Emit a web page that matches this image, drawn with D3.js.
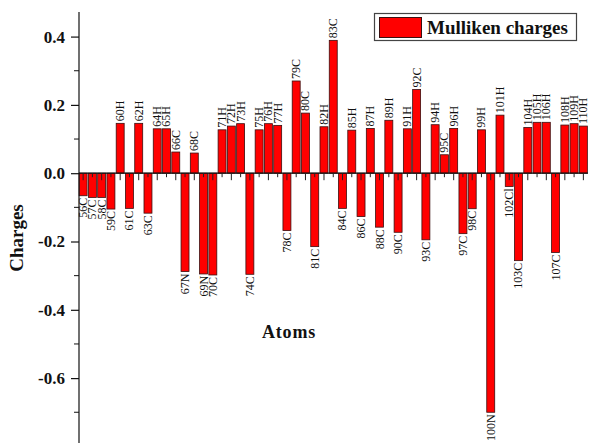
<!DOCTYPE html>
<html>
<head>
<meta charset="utf-8">
<script src="https://cdn.jsdelivr.net/npm/d3@7"></script>
<style>
  html, body { margin: 0; padding: 0; background: #fff; }
  svg { display: block; }
  text { font-family: "Liberation Serif", "Times New Roman", serif; fill: #111; }
</style>
</head>
<body>
<svg id="chart" width="589" height="444"></svg>
<script>
// Atom labels along the x axis
const atoms = [
  "56C","57C","58C","59C","60H","61C","62H","63C","64H","65H","66C","67N","68C","69N","70C",
  "71H","72H","73H","74C","75H","76H","77H","78C","79C","80C","81C","82H","83C","84C","85H",
  "86C","87H","88C","89H","90C","91H","92C","93C","94H","95C","96H","97C","98C","99H","100N",
  "101H","102Cl","103C","104H","105H","106H","107C","108H","109H","110H"
];

// Mulliken charge of each atom
const charges = [
  -0.066,-0.071,-0.071,-0.105, 0.146,-0.103, 0.146,-0.117, 0.130, 0.130, 0.062,-0.288, 0.059,-0.295,-0.298,
   0.127, 0.138, 0.145,-0.296, 0.127, 0.145, 0.140,-0.168, 0.270, 0.176,-0.215, 0.136, 0.389,-0.103, 0.126,
  -0.127, 0.131,-0.158, 0.155,-0.173, 0.130, 0.245,-0.195, 0.142, 0.054, 0.131,-0.177,-0.104, 0.127,-0.700,
   0.170,-0.039,-0.256, 0.134, 0.149, 0.149,-0.232, 0.141, 0.145, 0.138
];

const yMajorTicks = [-0.6, -0.4, -0.2, 0.0, 0.2, 0.4];
const yMinorTicks = [-0.7, -0.5, -0.3, -0.1, 0.1, 0.3];
const seriesName = "Mulliken charges";
const xTitle = "Atoms";
const yTitle = "Charges";

const svg = d3.select("#chart");

const x = d3.scaleBand()
  .domain(atoms)
  .range([78.5, 588])
  .paddingInner(0.14)
  .paddingOuter(0.07);

const y = d3.scaleLinear()
  .domain([-0.79, 0.472])
  .range([443, 12]);

const axisX = 79;
const zeroY = y(0);

// Bars
svg.append("g")
  .selectAll("rect")
  .data(atoms)
  .join("rect")
  .attr("x", d => x(d))
  .attr("width", x.bandwidth())
  .attr("y", (d, i) => Math.min(y(charges[i]), zeroY))
  .attr("height", (d, i) => Math.abs(y(charges[i]) - zeroY))
  .attr("fill", "#ff0000")
  .attr("stroke", "#3a1010")
  .attr("stroke-width", 0.8);

// Y axis: major ticks with labels, then minor ticks
const yAxis = svg.append("g")
  .attr("transform", `translate(${axisX},0)`)
  .call(d3.axisLeft(y)
    .tickValues(yMajorTicks)
    .tickSize(8)
    .tickPadding(6)
    .tickFormat(d3.format(".1f")));
yAxis.select(".domain").attr("stroke", "#111").attr("stroke-width", 1.2).attr("d", `M0,${y.range()[0]}V${y.range()[1]}`);
yAxis.selectAll(".tick line").attr("stroke", "#111").attr("stroke-width", 1.2);
yAxis.selectAll(".tick text")
  .style("font-family", '"Liberation Serif", serif')
  .style("font-weight", "bold")
  .style("font-size", "17px")
  .attr("fill", "#111")
  .text(d => d3.format(".1f")(d).replace("−", "-"));

svg.append("g")
  .selectAll("line")
  .data(yMinorTicks)
  .join("line")
  .attr("x1", axisX - 5)
  .attr("x2", axisX)
  .attr("y1", d => y(d))
  .attr("y2", d => y(d))
  .attr("stroke", "#111")
  .attr("stroke-width", 1);

// X axis along zero with ticks at each bar centre (alternating length)
svg.append("line")
  .attr("x1", axisX)
  .attr("x2", 588)
  .attr("y1", zeroY)
  .attr("y2", zeroY)
  .attr("stroke", "#111")
  .attr("stroke-width", 1.3);

svg.append("g")
  .selectAll("line")
  .data(atoms)
  .join("line")
  .attr("x1", d => x(d) + x.bandwidth() / 2)
  .attr("x2", d => x(d) + x.bandwidth() / 2)
  .attr("y1", zeroY)
  .attr("y2", (d, i) => zeroY + (i % 2 === 0 ? 7 : 4))
  .attr("stroke", "#222")
  .attr("stroke-width", 1);

// Atom labels at the end of each bar
svg.append("g")
  .selectAll("text")
  .data(atoms)
  .join("text")
  .attr("transform", (d, i) => {
    const cx = x(d) + x.bandwidth() / 2;
    const v = charges[i];
    const yy = v >= 0 ? y(v) - 2 : y(v) + 2;
    return `translate(${cx},${yy}) rotate(-90)`;
  })
  .attr("text-anchor", (d, i) => charges[i] >= 0 ? "start" : "end")
  .attr("dy", "0.33em")
  .style("font-size", "12px")
  .text(d => d);

// Axis titles
svg.append("text")
  .attr("transform", "translate(23,238) rotate(-90)")
  .attr("text-anchor", "middle")
  .style("font-size", "19px")
  .style("font-weight", "bold")
  .text(yTitle);

svg.append("text")
  .attr("x", 289)
  .attr("y", 338)
  .attr("text-anchor", "middle")
  .style("font-size", "18px")
  .style("font-weight", "bold")
  .style("letter-spacing", "0.8px")
  .text(xTitle);

// Legend
const legend = svg.append("g");
legend.append("rect")
  .attr("x", 374.5).attr("y", 13.5)
  .attr("width", 202).attr("height", 27)
  .attr("fill", "#fff")
  .attr("stroke", "#444")
  .attr("stroke-width", 1.2);
legend.append("rect")
  .attr("x", 379.5).attr("y", 17.5)
  .attr("width", 42).attr("height", 20)
  .attr("fill", "#ff0000")
  .attr("stroke", "#3a1010")
  .attr("stroke-width", 1);
legend.append("text")
  .attr("x", 427).attr("y", 34)
  .style("font-size", "19px")
  .style("font-weight", "bold")
  .text(seriesName);
</script>
</body>
</html>
